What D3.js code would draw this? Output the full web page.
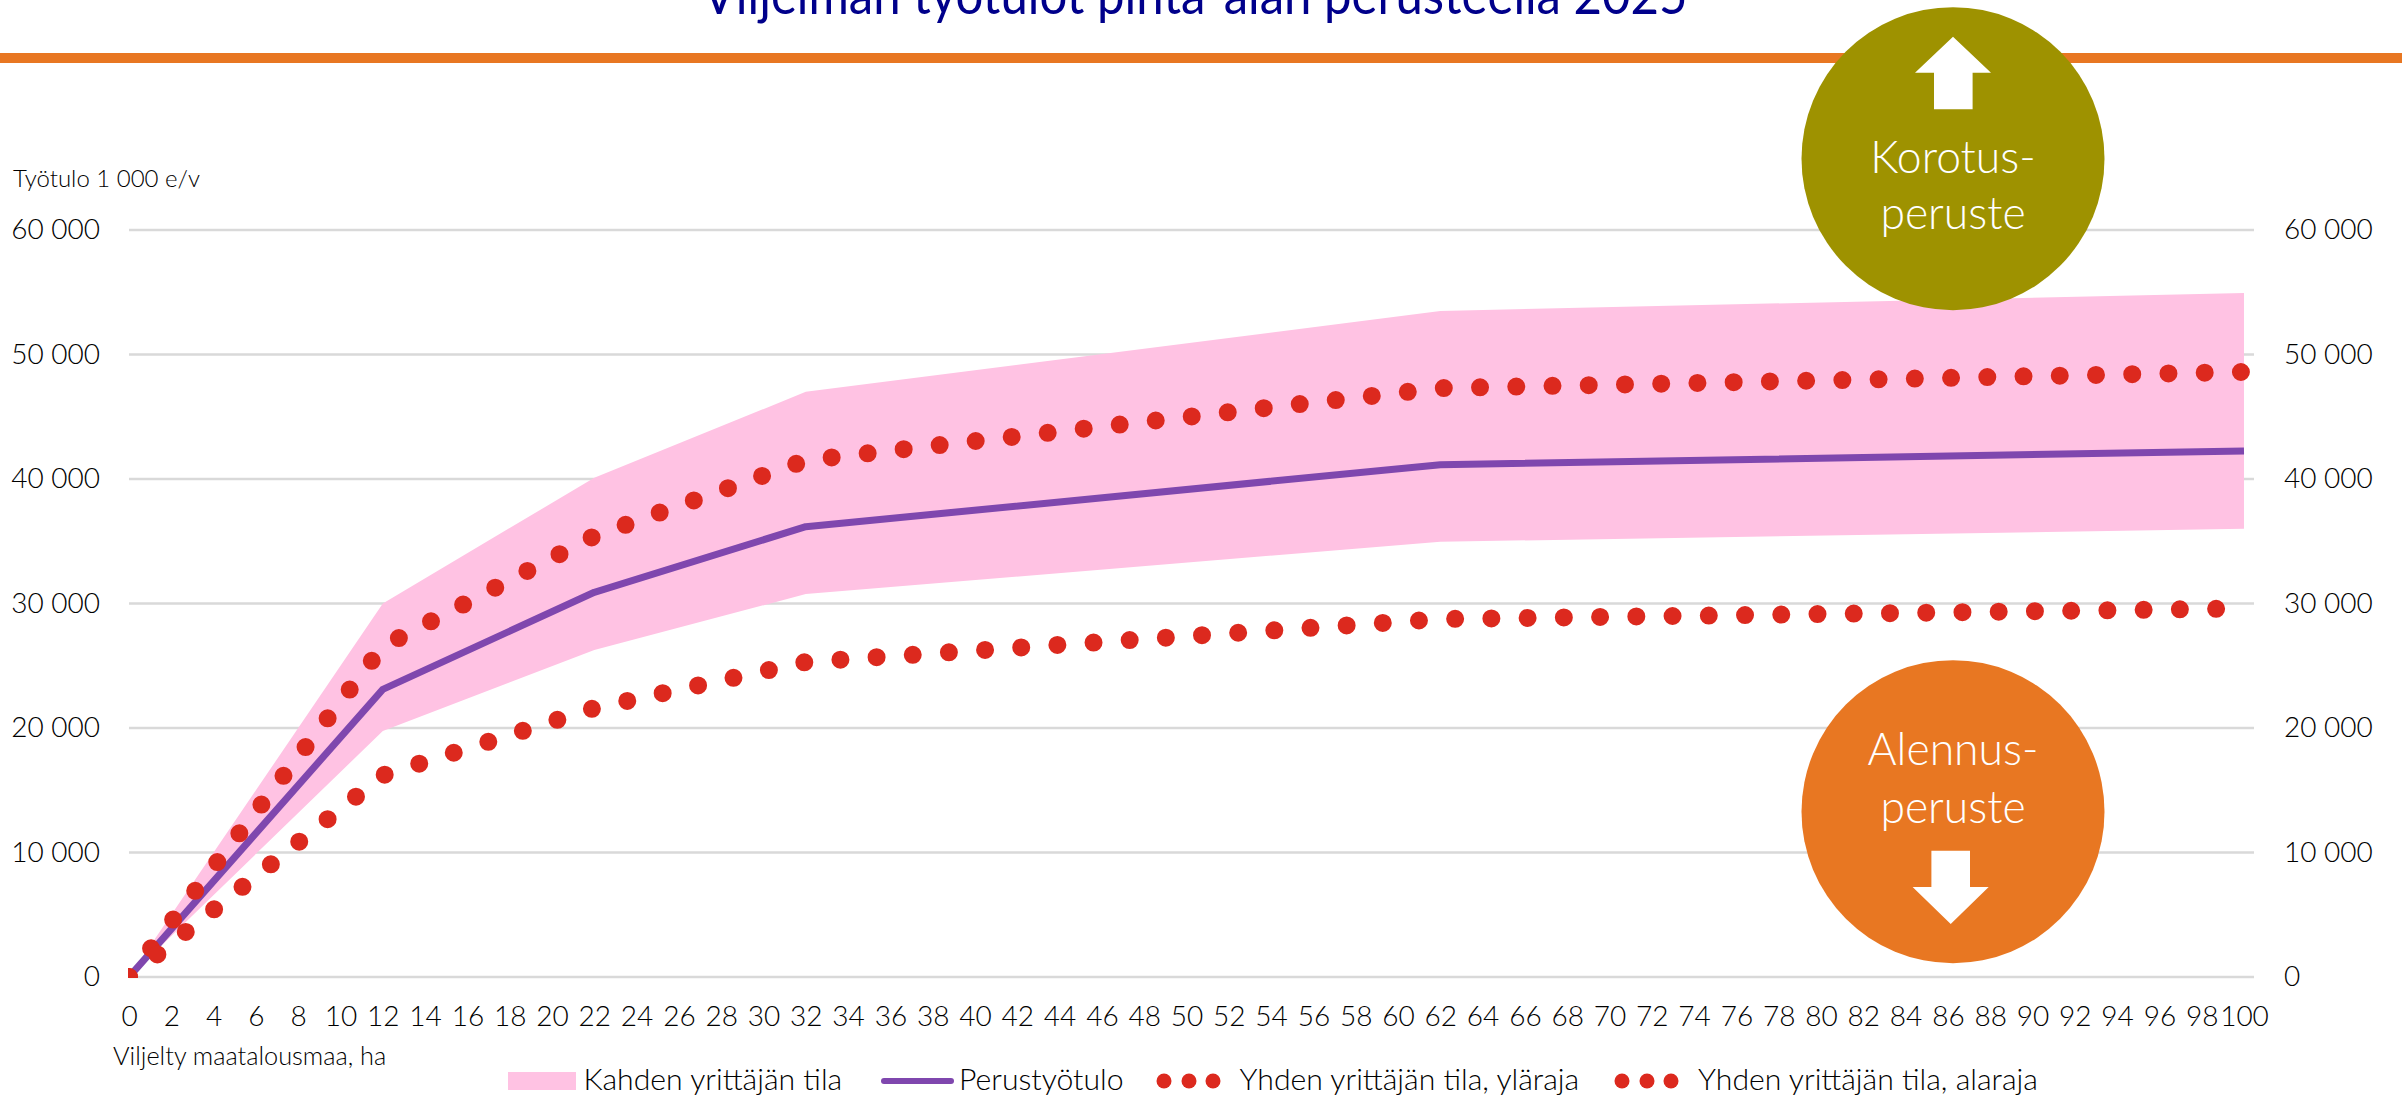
<!DOCTYPE html>
<html lang="fi"><head><meta charset="utf-8">
<script src="https://cdn.jsdelivr.net/npm/d3@7/dist/d3.min.js"></script>
<style>
html,body{margin:0;padding:0;background:#fff;overflow:hidden}
svg{display:block}
text{font-family:Lato,"Open Sans",sans-serif;font-weight:300;fill:#000}
</style></head><body><svg id="c" width="2402" height="1096"></svg>
<script>
const titleText = "Viljelmän työtulot pinta-alan perusteella 2025";
const hectares   = [0, 12, 22, 32, 62, 100];
const twoUpper   = [0, 30000, 40100, 47000, 53500, 54940];
const twoLower   = [0, 19760, 26260, 30760, 34960, 36000];
const baseIncome = [0, 23100, 30900, 36170, 41150, 42250];
const oneUpper   = [0, 26550, 35420, 41500, 47300, 48600];
const oneLower   = [0, 16200, 21600, 25300, 28750, 29600];
const yTicks = [0, 10000, 20000, 30000, 40000, 50000, 60000];
const xTicks = d3.range(0, 101, 2);
const legendLabels = ["Kahden yrittäjän tila", "Perustyötulo", "Yhden yrittäjän tila, yläraja", "Yhden yrittäjän tila, alaraja"];
const COL = {pink:"#FFC2E3", purple:"#7F47AE", red:"#DC291E", grid:"#D9D9D9", orange:"#E87722", olive:"#9E9200", navy:"#00008B"};

const svg = d3.select("#c");
const x = d3.scaleLinear().domain([0, 100]).range([129, 2244]);
const y = d3.scaleLinear().domain([0, 60000]).range([977, 230]);
const plotRight = 2254;
const fmt = v => d3.format(",")(v).replace(/,/g, " ");

// title and rule
svg.append("text").attr("x",1195).attr("y",14).attr("text-anchor","middle")
  .attr("textLength",985).attr("lengthAdjust","spacingAndGlyphs")
  .style("font-size","54px").style("font-weight",400).style("fill",COL.navy).text(titleText);
svg.append("rect").attr("x",0).attr("y",53).attr("width",2402).attr("height",10).attr("fill",COL.orange);

// gridlines
svg.append("g").selectAll("line").data(yTicks).join("line")
  .attr("x1",x(0)).attr("x2",plotRight).attr("y1",d=>y(d)).attr("y2",d=>y(d))
  .attr("stroke",COL.grid).attr("stroke-width",2.5);

// plot clip
svg.append("clipPath").attr("id","plot").append("rect")
  .attr("x",x(0)-1).attr("y",y(60000)-20).attr("width",plotRight-x(0)+1).attr("height",y(0)-y(60000)+21);

const rows = hectares.map((h,i)=>({h,tu:twoUpper[i],tl:twoLower[i],b:baseIncome[i],u:oneUpper[i],l:oneLower[i]}));
const plot = svg.append("g").attr("clip-path","url(#plot)");
plot.append("path").datum(rows).attr("fill",COL.pink)
  .attr("d",d3.area().x(d=>x(d.h)).y0(d=>y(d.tl)).y1(d=>y(d.tu)));
plot.append("path").datum(rows).attr("fill","none").attr("stroke",COL.purple).attr("stroke-width",7)
  .attr("stroke-linejoin","round").attr("d",d3.line().x(d=>x(d.h)).y(d=>y(d.b)));
[d=>d.u, d=>d.l].forEach(acc=>{
  plot.append("path").datum(rows).attr("fill","none").attr("stroke",COL.red).attr("stroke-width",18)
    .attr("stroke-linecap","round").attr("stroke-dasharray","0 36.24")
    .attr("d",d3.line().x(d=>x(d.h)).y(d=>y(acc(d))));
});

// axes
const yL = d3.axisLeft(y).tickValues(yTicks).tickFormat(fmt).tickSize(0).tickPadding(0);
const gL = svg.append("g").attr("transform","translate(100,0)").call(yL);
const yR = d3.axisRight(y).tickValues(yTicks).tickFormat(fmt).tickSize(0).tickPadding(0);
const gR = svg.append("g").attr("transform","translate(2284,0)").call(yR);
const xA = d3.axisBottom(x).tickValues(xTicks).tickFormat(d=>d).tickSize(0).tickPadding(0);
const gX = svg.append("g").attr("transform","translate(0,1006)").call(xA);
[gL,gR,gX].forEach(g=>{g.select(".domain").remove();
  g.selectAll("text").style("font-family",'Lato,"Open Sans",sans-serif').style("font-size","28px").style("font-weight",300).style("fill","#000");});
gX.selectAll("text").attr("dy","0.71em");

// axis titles
svg.append("text").attr("x",13).attr("y",187).style("font-size","24px").text("Työtulo 1 000 e/v");
svg.append("text").attr("x",113).attr("y",1065).style("font-size","25.3px").text("Viljelty maatalousmaa, ha");

// legend
const leg = svg.append("g");
const legX = [583.5, 959, 1239.5, 1698];
legendLabels.forEach((t,i)=>{
  leg.append("text").attr("x",legX[i]).attr("y",1090).style("font-size","30.2px").text(t);
});
leg.append("rect").attr("x",508).attr("y",1072).attr("width",68).attr("height",18).attr("fill",COL.pink);
leg.append("line").attr("x1",884).attr("x2",951).attr("y1",1081).attr("y2",1081)
  .attr("stroke",COL.purple).attr("stroke-width",6).attr("stroke-linecap","round");
[[1164,1189,1213],[1622,1647,1671]].forEach(cs=>cs.forEach(cx=>
  leg.append("circle").attr("cx",cx).attr("cy",1081).attr("r",7.5).attr("fill",COL.red)));

// badges
function badge(cy,col,lines,base,arrow){
  svg.append("circle").attr("cx",1953).attr("cy",cy).attr("r",151.5).attr("fill",col);
  lines.forEach((t,i)=>svg.append("text").attr("x",1953).attr("y",base[i]).attr("text-anchor","middle")
    .style("font-size","44.5px").style("fill","#fff").text(t));
  svg.append("path").attr("d",d3.line()(arrow)+"Z").attr("fill","#fff");
}
badge(158.7,COL.olive,["Korotus-","peruste"],[172.7,229],
  [[1953,36.7],[1991,72.7],[1972.6,72.7],[1972.6,109.3],[1934,109.3],[1934,72.7],[1915,72.7]]);
badge(811.7,COL.orange,["Alennus-","peruste"],[765,822.7],
  [[1931.4,850.7],[1970,850.7],[1970,887],[1988.7,887],[1950.7,924],[1912.6,887],[1931.4,887]]);
</script></body></html>
